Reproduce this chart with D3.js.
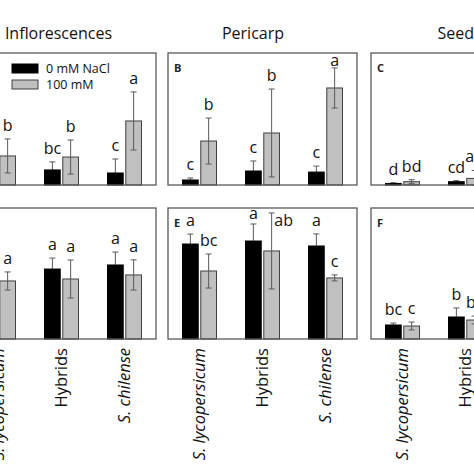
<!DOCTYPE html>
<html><head><meta charset="utf-8">
<script src="https://cdn.jsdelivr.net/npm/d3@7"></script>
<style>body{margin:0;background:#fff}svg{display:block}</style>
</head><body>
<svg id="chart" width="474" height="474"></svg>
<script>
// ---------------- DATA ----------------
const categories = ["S. lycopersicum", "Hybrids", "S. chilense"];
const seriesNames = ["0 mM NaCl", "100 mM"];
const columnTitles = ["Inflorescences", "Pericarp", "Seeds"];
const panelIds = ["A", "B", "C", "D", "E", "F"];

// Means (relative units, 0–100 of panel height) and error bars, per panel
const ctrlA = [10.0, 11.4, 9.1],   saltA = [22.0, 21.2, 48.5];
const ctrlErrA = [6.0, 6.1, 10.6], saltErrA = [12.9, 12.9, 22.0];
const ctrlSigA = ["bc", "bc", "c"], saltSigA = ["b", "b", "a"];

const ctrlB = [3.8, 10.6, 9.8],    saltB = [33.3, 39.4, 73.5];
const ctrlErrB = [1.5, 7.6, 4.5],  saltErrB = [17.4, 33.3, 15.2];
const ctrlSigB = ["c", "c", "c"],  saltSigB = ["b", "b", "a"];

const ctrlC = [1.2, 2.5, 3.0],     saltC = [2.5, 5.0, 8.0];
const ctrlErrC = [0.5, 0.8, 1.0],  saltErrC = [1.5, 6.0, 3.0];
const ctrlSigC = ["d", "cd", "c"], saltSigC = ["bd", "ab", "a"];

const ctrlD = [55.0, 53.4, 56.5],  saltD = [44.3, 45.8, 48.9];
const ctrlErrD = [8.0, 8.4, 9.9],  saltErrD = [6.9, 14.5, 11.5];
const ctrlSigD = ["a", "a", "a"],  saltSigD = ["a", "a", "a"];

const ctrlE = [72.5, 74.8, 71.0],  saltE = [51.9, 67.2, 46.6];
const ctrlErrE = [7.6, 13.0, 9.2], saltErrE = [13.0, 29.0, 2.3];
const ctrlSigE = ["a", "a", "a"],  saltSigE = ["bc", "ab", "c"];

const ctrlF = [10.7, 16.8, 20.0],  saltF = [9.9, 14.5, 12.0];
const ctrlErrF = [1.5, 6.9, 5.0],  saltErrF = [3.0, 3.0, 3.0];
const ctrlSigF = ["bc", "b", "a"], saltSigF = ["c", "bc", "b"];

const panels = [
  {id:"A", ctrl:ctrlA, salt:saltA, ctrlErr:ctrlErrA, saltErr:saltErrA, ctrlSig:ctrlSigA, saltSig:saltSigA},
  {id:"B", ctrl:ctrlB, salt:saltB, ctrlErr:ctrlErrB, saltErr:saltErrB, ctrlSig:ctrlSigB, saltSig:saltSigB},
  {id:"C", ctrl:ctrlC, salt:saltC, ctrlErr:ctrlErrC, saltErr:saltErrC, ctrlSig:ctrlSigC, saltSig:saltSigC},
  {id:"D", ctrl:ctrlD, salt:saltD, ctrlErr:ctrlErrD, saltErr:saltErrD, ctrlSig:ctrlSigD, saltSig:saltSigD},
  {id:"E", ctrl:ctrlE, salt:saltE, ctrlErr:ctrlErrE, saltErr:saltErrE, ctrlSig:ctrlSigE, saltSig:saltSigE},
  {id:"F", ctrl:ctrlF, salt:saltF, ctrlErr:ctrlErrF, saltErr:saltErrF, ctrlSig:ctrlSigF, saltSig:saltSigF}
];

// ---------------- LAYOUT ----------------
const FONT = "'Open Sans', 'DejaVu Sans', sans-serif";
const colLefts = [-33, 168, 371];
const panelW = 189;
const rowTops = [53, 208];
const rowHeights = [132, 131];
const titleOffsets = [-3, -9.5, -6];
const labelNudge = {"E-1-1": {dx: 12, dy: 21}, "B-2-1": {dx: 0, dy: 6}, "E-1-0": {dx: 0, dy: 3}};
const colors = ["#000000", "#c0c0c0"];

const svg = d3.select("#chart");
svg.append("rect").attr("width",474).attr("height",474).attr("fill","#fff");

// column titles
columnTitles.forEach((t,i)=>{
  svg.append("text")
    .attr("x", colLefts[i] + panelW/2 + titleOffsets[i])
    .attr("y", 39)
    .attr("text-anchor","middle")
    .attr("font-family", FONT).attr("font-size", 16).attr("fill","#111")
    .text(t);
});

panels.forEach((p, pi) => {
  const col = pi % 3, row = Math.floor(pi / 3);
  const h = rowHeights[row];
  const g = svg.append("g").attr("transform", `translate(${colLefts[col]},${rowTops[row]})`);

  const x0 = d3.scaleBand().domain(categories).range([0, panelW]).paddingInner(0).paddingOuter(0);
  const x1 = d3.scaleBand().domain([0,1]).range([-17, 17]).paddingInner(0.14);
  const y = d3.scaleLinear().domain([0, 100]).range([h, 0]);

  const rows = [];
  categories.forEach((c, gi) => {
    [0,1].forEach(s => {
      rows.push({
        cat: c, gi, s,
        v: s === 0 ? p.ctrl[gi] : p.salt[gi],
        e: s === 0 ? p.ctrlErr[gi] : p.saltErr[gi],
        sig: s === 0 ? p.ctrlSig[gi] : p.saltSig[gi]
      });
    });
  });
  const bx = d => x0(d.cat) + x0.bandwidth()/2 + x1(d.s);
  const cx = d => bx(d) + x1.bandwidth()/2;

  // gray bars first
  g.selectAll("rect.salt").data(rows.filter(d=>d.s===1)).join("rect")
    .attr("x", bx).attr("width", x1.bandwidth())
    .attr("y", d=>y(d.v)).attr("height", d=>h - y(d.v))
    .attr("fill", colors[1]).attr("stroke","#404040").attr("stroke-width",1);

  // error bars
  const eb = g.selectAll("g.err").data(rows).join("g");
  eb.append("line")
    .attr("x1", cx).attr("x2", cx)
    .attr("y1", d=>y(d.v + d.e)).attr("y2", d=>y(Math.max(0, d.v - d.e)))
    .attr("stroke","#5a5a5a").attr("stroke-width",1);
  eb.append("line")
    .attr("x1", d=>cx(d)-3).attr("x2", d=>cx(d)+3)
    .attr("y1", d=>y(d.v + d.e)).attr("y2", d=>y(d.v + d.e))
    .attr("stroke","#5a5a5a").attr("stroke-width",1);
  eb.append("line")
    .attr("x1", d=>cx(d)-3).attr("x2", d=>cx(d)+3)
    .attr("y1", d=>y(Math.max(0, d.v - d.e))).attr("y2", d=>y(Math.max(0, d.v - d.e)))
    .attr("stroke","#5a5a5a").attr("stroke-width",1);

  // black bars on top
  g.selectAll("rect.ctrl").data(rows.filter(d=>d.s===0)).join("rect")
    .attr("x", bx).attr("width", x1.bandwidth())
    .attr("y", d=>y(d.v)).attr("height", d=>h - y(d.v))
    .attr("fill", colors[0]).attr("stroke","#000").attr("stroke-width",1);

  // significance letters
  g.selectAll("text.sig").data(rows).join("text")
    .attr("x", d => cx(d) + ((labelNudge[`${p.id}-${d.gi}-${d.s}`]||{}).dx||0))
    .attr("y", d => y(d.v + d.e) - 8 + ((labelNudge[`${p.id}-${d.gi}-${d.s}`]||{}).dy||0))
    .attr("text-anchor","middle")
    .attr("font-family", FONT).attr("font-size", 16).attr("fill","#111")
    .text(d => d.sig);

  // frame
  g.append("rect").attr("x",0).attr("y",0).attr("width",panelW).attr("height",h)
    .attr("fill","none").attr("stroke","#595959").attr("stroke-width",1.3);

  // panel letter
  if (p.id !== "A" && p.id !== "D") {
    g.append("text").attr("x",6).attr("y",19)
      .attr("font-family", FONT).attr("font-size", 11).attr("font-weight","bold").attr("fill","#222")
      .text(p.id);
  }

  // legend in panel A
  if (p.id === "A") {
    const lg = g.append("g").attr("transform","translate(45,11)");
    seriesNames.forEach((n,i)=>{
      lg.append("rect").attr("x",0).attr("y",i*16).attr("width",26).attr("height",9)
        .attr("fill",colors[i]).attr("stroke", i ? "#404040" : "#000").attr("stroke-width",1);
      lg.append("text").attr("x",34).attr("y",i*16+8.5)
        .attr("font-family", FONT).attr("font-size", 12.5).attr("fill","#111").text(n);
    });
  }

  // category labels below bottom row
  if (row === 1) {
    const ax = svg.append("g").attr("transform", `translate(${colLefts[col]},0)`);
    categories.forEach(c=>{
      const xc = x0(c) + x0.bandwidth()/2 + 5.5;
      ax.append("text")
        .attr("transform", `translate(${xc},348) rotate(-90)`)
        .attr("text-anchor","end")
        .attr("font-family", FONT).attr("font-size", 16.5)
        .attr("font-style", c.startsWith("S.") ? "italic" : "normal")
        .attr("fill","#111")
        .text(c);
    });
  }
});
</script>
</body></html>
